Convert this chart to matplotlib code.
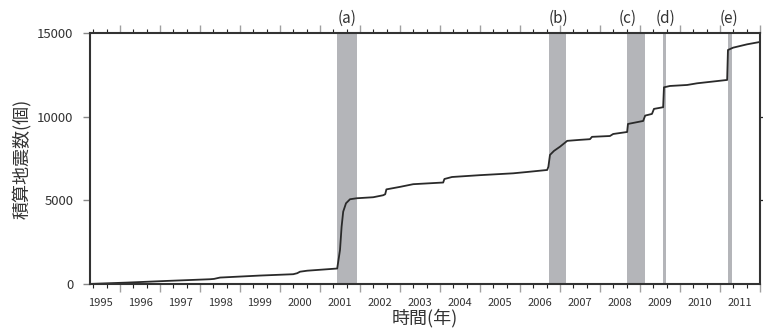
import matplotlib
matplotlib.use('Agg')
import matplotlib.pyplot as plt
from matplotlib.ticker import MultipleLocator
import matplotlib.transforms as mtransforms

plt.rcParams['font.family'] = ['Noto Sans CJK JP', 'DejaVu Sans']
plt.rcParams['text.color'] = '#333333'
plt.rcParams['axes.labelcolor'] = '#333333'
plt.rcParams['xtick.labelcolor'] = '#333333'
plt.rcParams['ytick.labelcolor'] = '#333333'

# cumulative earthquake count (decimal year, count)
years = [1995.25, 1996.18, 1997.18, 1998.25, 1998.35, 1998.5, 1999.5, 2000.33, 2000.43, 2000.5,
         2000.68, 2001.43, 2001.5, 2001.54, 2001.58, 2001.65, 2001.75, 2001.92, 2002.33, 2002.58,
         2002.63, 2002.66, 2003.0, 2003.33, 2004.08, 2004.11, 2004.3, 2005.0, 2005.83, 2006.18,
         2006.68, 2006.71, 2006.75, 2006.85, 2007.0, 2007.13, 2007.18, 2007.5, 2007.75, 2007.8,
         2008.25, 2008.33, 2008.68, 2008.7, 2009.08, 2009.13, 2009.3, 2009.35, 2009.58, 2009.6,
         2009.75, 2010.18, 2010.43, 2011.18, 2011.2, 2011.33, 2011.68, 2012.0]
counts = [0, 80, 180, 280, 300, 380, 500, 580, 640, 730,
          790, 920, 2030, 3420, 4320, 4820, 5060, 5120, 5180, 5300,
          5360, 5650, 5800, 5960, 6060, 6270, 6390, 6500, 6610, 6690,
          6810, 7000, 7710, 7950, 8200, 8450, 8550, 8610, 8650, 8790,
          8840, 8960, 9080, 9560, 9740, 10060, 10160, 10460, 10560, 11750,
          11830, 11890, 11990, 12190, 13980, 14120, 14320, 14460]

# shaded periods
band_labels = ['(a)', '(b)', '(c)', '(d)', '(e)']
band_start = [2001.43, 2006.73, 2008.68, 2009.57, 2011.19]
band_end = [2001.93, 2007.15, 2009.13, 2009.64, 2011.31]
band_label_x = [2001.68, 2006.95, 2008.68, 2009.63, 2011.23]

year_labels = list(range(1995, 2012))

fig = plt.figure(figsize=(7.63, 3.36), dpi=100)
ax = fig.add_axes([0.118, 0.155, 0.878, 0.747])

for s, e in zip(band_start, band_end):
    ax.axvspan(s, e, color='#b4b5b9', lw=0, zorder=1)

ax.plot(years, counts, color='#2a2a2a', lw=1.3, zorder=3)

ax.set_xlim(1995.25, 2012.0)
ax.set_ylim(0, 15000)

for sp in ax.spines.values():
    sp.set_linewidth(1.5)
    sp.set_color('#333333')
    sp.set_zorder(4)

# year ticks (gray) and 4-month ticks (black), top and bottom
ax.xaxis.set_major_locator(MultipleLocator(1))
ax.xaxis.set_minor_locator(MultipleLocator(1 / 3))
ax.tick_params(axis='x', which='major', direction='out', length=6, width=1.0,
               color='#a0a0a0', top=True, bottom=True, labelbottom=False)
ax.tick_params(axis='x', which='minor', direction='out', length=2.6, width=0.8,
               color='#222222', top=True, bottom=True)

ax.set_yticks([0, 5000, 10000, 15000])
ax.tick_params(axis='y', direction='out', length=5, width=1.0, color='#888888',
               labelsize=9.5, pad=7)

# year labels centred in each year
secx = ax.secondary_xaxis('bottom')
secx.set_xticks([y + 0.5 for y in year_labels], [str(y) for y in year_labels])
secx.tick_params(length=0, labelsize=8, pad=10)
secx.spines['bottom'].set_visible(False)
secx.set_xlabel('時間(年)', fontsize=13, labelpad=1)

secy = ax.secondary_yaxis('right')
secy.set_yticks([5000, 10000])
secy.tick_params(direction='out', length=2.5, width=0.9, color='#222222', labelright=False)
secy.spines['right'].set_visible(False)

ax.set_ylabel('積算地震数(個)', fontsize=13, labelpad=4)

trans = mtransforms.blended_transform_factory(ax.transData, ax.transAxes)
for lab, x in zip(band_labels, band_label_x):
    ax.text(x, 1.025, lab, transform=trans, ha='center', va='bottom', fontsize=11)

fig.savefig('out.png', dpi=100)
